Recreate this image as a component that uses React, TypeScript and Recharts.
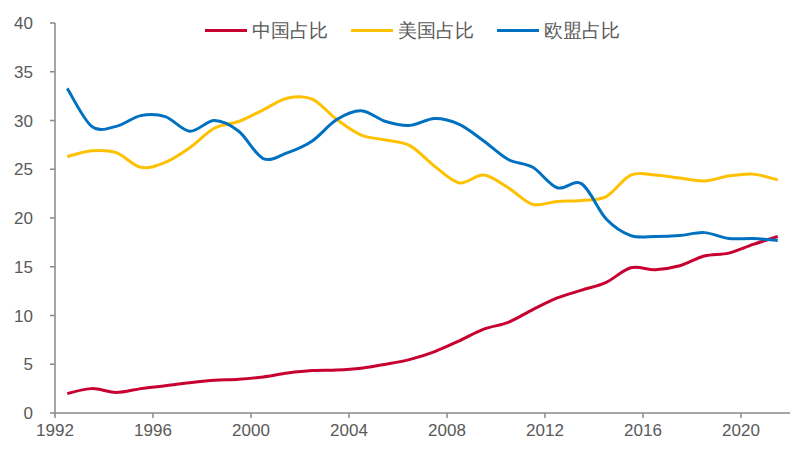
import React from "react";
import { LineChart, Line, XAxis, YAxis } from "recharts";

const years = [1992,1993,1994,1995,1996,1997,1998,1999,2000,2001,2002,2003,2004,2005,2006,2007,2008,2009,2010,2011,2012,2013,2014,2015,2016,2017,2018,2019,2020,2021];
const china = [2.0,2.5,2.1,2.5,2.8,3.1,3.35,3.45,3.7,4.1,4.35,4.4,4.6,5.0,5.5,6.3,7.4,8.6,9.3,10.6,11.8,12.6,13.4,14.9,14.7,15.1,16.1,16.4,17.3,18.1];
const us = [26.3,26.9,26.7,25.2,25.7,27.2,29.2,29.9,31.1,32.3,32.2,30.1,28.5,28.0,27.4,25.3,23.6,24.4,23.1,21.4,21.7,21.8,22.2,24.4,24.4,24.1,23.8,24.3,24.5,23.9];
const eu = [33.3,29.4,29.4,30.5,30.4,28.9,30.0,28.9,26.1,26.7,27.9,30.1,31.0,29.9,29.5,30.2,29.6,27.9,26.0,25.2,23.1,23.5,19.9,18.2,18.1,18.2,18.5,17.9,17.9,17.7];
const xTickLabels = [1992,1996,2000,2004,2008,2012,2016,2020];
const yTicks = [0,5,10,15,20,25,30,35,40];

const seriesNames = ["中国占比", "美国占比", "欧盟占比"];
const colors = ["#C8002F", "#FFC000", "#0070C0"];

const data = years.map((y, i) => ({ year: y, china: china[i], us: us[i], eu: eu[i] }));

const font = "'Liberation Sans', Arial, sans-serif";

// Catmull-Rom style smoothing (similar to spreadsheet "smoothed line")
const smoothCurve: any = (context: any) => {
  let pts: number[][] = [];
  return {
    areaStart() {},
    areaEnd() {},
    lineStart() {
      pts = [];
    },
    point(x: number, y: number) {
      pts.push([+x, +y]);
    },
    lineEnd() {
      const n = pts.length;
      if (!n) return;
      context.moveTo(pts[0][0], pts[0][1]);
      for (let i = 0; i < n - 1; i++) {
        const p0 = pts[Math.max(i - 1, 0)];
        const p1 = pts[i];
        const p2 = pts[i + 1];
        const p3 = pts[Math.min(i + 2, n - 1)];
        context.bezierCurveTo(
          p1[0] + (p2[0] - p0[0]) / 6,
          p1[1] + (p2[1] - p0[1]) / 6,
          p2[0] - (p3[0] - p1[0]) / 6,
          p2[1] - (p3[1] - p1[1]) / 6,
          p2[0],
          p2[1]
        );
      }
    },
  };
};

export default function App() {
  return (
    <div style={{ position: "absolute", left: 0, top: 0, width: 812, height: 458, background: "#fff" }}>
      <div
        style={{
          position: "absolute",
          left: 205,
          top: 18,
          height: 24,
          display: "flex",
          alignItems: "center",
          fontFamily: font,
          fontSize: 18.5,
          color: "#595959",
          zIndex: 2,
          whiteSpace: "nowrap",
        }}
      >
        {seriesNames.map((n, i) => (
          <div key={n} style={{ display: "flex", alignItems: "center", marginRight: i < 2 ? 23 : 0 }}>
            <div style={{ width: 42, height: 3, background: colors[i], marginRight: 5 }} />
            <span>{n}</span>
          </div>
        ))}
      </div>
      <LineChart width={812} height={458} data={data} margin={{ top: 23, right: 22, bottom: 15, left: 0 }}>
        <XAxis
          dataKey="year"
          type="number"
          height={30}
          domain={[1991.5, 2021.5]}
          ticks={xTickLabels.map((t) => t - 0.5)}
          tickFormatter={(v: number) => String(Math.round(v + 0.5))}
          stroke="#898989"
          strokeWidth={1.5}
          tickSize={5}
          tickMargin={6}
          tick={{ fill: "#595959", fontSize: 17, fontFamily: font }}
          allowDataOverflow
        />
        <YAxis
          domain={[0, 40]}
          ticks={yTicks}
          width={55}
          stroke="#898989"
          strokeWidth={1.5}
          tickSize={5}
          tickMargin={17}
          tick={{ fill: "#595959", fontSize: 17, fontFamily: font }}
        />
        <Line type={smoothCurve} dataKey="china" name={seriesNames[0]} stroke={colors[0]} strokeWidth={3} dot={false} isAnimationActive={false} />
        <Line type={smoothCurve} dataKey="us" name={seriesNames[1]} stroke={colors[1]} strokeWidth={3} dot={false} isAnimationActive={false} />
        <Line type={smoothCurve} dataKey="eu" name={seriesNames[2]} stroke={colors[2]} strokeWidth={3} dot={false} isAnimationActive={false} />
      </LineChart>
    </div>
  );
}
